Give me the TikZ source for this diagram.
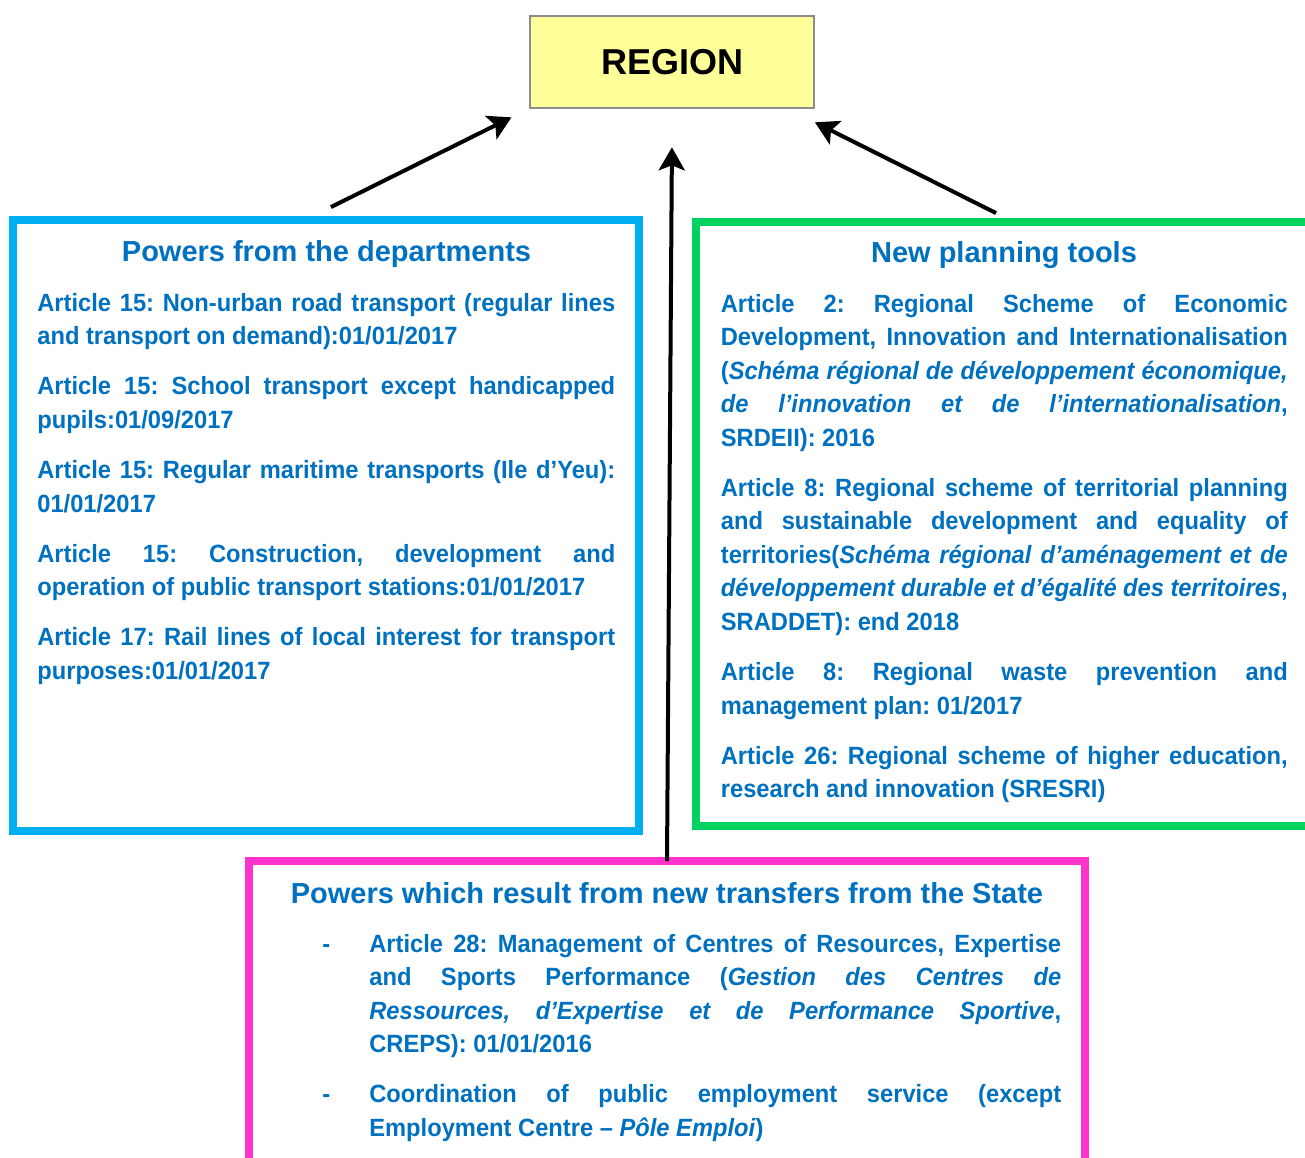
\documentclass[tikz,border=0pt]{standalone}
\usepackage{fontspec}
\setmainfont{Liberation Sans}
\newfontfamily\narrowsans[FakeStretch=0.95]{Liberation Sans}
\usetikzlibrary{arrows.meta}

\definecolor{textblue}{RGB}{0,112,192}
\definecolor{deptblue}{RGB}{0,176,240}
\definecolor{toolgreen}{RGB}{0,210,96}
\definecolor{statepink}{RGB}{255,51,204}
\definecolor{regionyellow}{RGB}{255,255,153}
\definecolor{regiongray}{RGB}{140,140,140}

\newcommand{\artsetup}{\parindent=0pt\parskip=9.5pt\frenchspacing\strut}
\newcommand{\dashitem}{\hangindent=0.94cm\hangafter=1\makebox[0.94cm][l]{-}}

\tikzset{
  powerbox/.style={shape=rectangle, draw=#1, line width=0.15cm, outer sep=0pt},
  heading/.style={anchor=base, text=textblue, font=\bfseries\fontsize{16.5pt}{20pt}\selectfont},
  article/.style={anchor=north west, inner sep=0pt, align=justify, text=textblue,
    font=\narrowsans\bfseries\fontsize{14.2pt}{19.06pt}\selectfont},
  toregion/.style={-{Stealth[length=0.46cm,width=0.52cm,inset=0.1cm]}, line width=0.08cm}
}

\begin{document}
\begin{tikzpicture}[x=0.02cm, y=-0.02cm]
	\useasboundingbox (0,0) rectangle (1305,1158);
	\clip (0,0) rectangle (1305,1158);

	\node[shape=rectangle, draw=regiongray, fill=regionyellow, line width=0.04cm, outer sep=0pt,
	      minimum width=5.67cm, minimum height=1.846cm,
	      font=\bfseries\fontsize{20.5pt}{24pt}\selectfont] (region) at (672.2, 62.2) {REGION};

	\node[powerbox=deptblue, minimum width=12.52cm, minimum height=12.22cm] (dept) at (326, 525.5) {};
	\node[powerbox=toolgreen, minimum width=12.32cm, minimum height=12.08cm] (tools) at (1004, 524) {};
	\node[powerbox=statepink, minimum width=16.72cm, minimum height=6.28cm] (state) at (667, 1018) {};

	% departments
	\node[heading] (depthead) at (326.5, 262) {Powers from the departments};
	\node[article, text width=11.56cm] (depttext) at (37, 287.5) {\artsetup
	Article 15: Non-urban road transport (regular lines\linebreak and transport on demand):01/01/2017\par
	Article 15: School transport except handicapped\linebreak pupils:01/09/2017\par
	Article 15: Regular maritime transports (Ile d’Yeu):\linebreak 01/01/2017\par
	Article 15: Construction, development and\linebreak operation of public transport stations:01/01/2017\par
	Article 17: Rail lines of local interest for transport\linebreak purposes:01/01/2017\par};

	% planning tools
	\node[heading] (toolhead) at (1004, 263) {New planning tools};
	\node[article, text width=11.34cm] (tooltext) at (720.5, 288.5) {\artsetup
	Article 2: Regional Scheme of Economic\linebreak Development, Innovation and Internationalisation\linebreak
	(\textit{Schéma régional de développement économique,\linebreak de l’innovation et de l’internationalisation},\linebreak SRDEII): 2016\par
	Article 8: Regional scheme of territorial planning\linebreak and sustainable development and equality of\linebreak
	territories(\textit{Schéma régional d’aménagement et de\linebreak développement durable et d’égalité des territoires},\linebreak SRADDET): end 2018\par
	Article 8: Regional waste prevention and\linebreak management plan: 01/2017\par
	Article 26: Regional scheme of higher education,\linebreak research and innovation (SRESRI)\par};

	% transfers from the State
	\node[heading] (statehead) at (667, 903) {Powers which result from new transfers from the State};
	\node[article, text width=14.78cm] (statetext) at (322, 928.5) {\artsetup
	\dashitem Article 28: Management of Centres of Resources, Expertise\linebreak
	and Sports Performance (\textit{Gestion des Centres de\linebreak Ressources, d’Expertise et de Performance Sportive},\linebreak CREPS): 01/01/2016\par
	\dashitem Coordination of public employment service (except\linebreak Employment Centre – \textit{Pôle Emploi})\par};

	\draw[toregion] ([shift={(5,-13)}]dept.north) -- ([shift={(-19,9)}]region.south west);
	\draw[toregion, shorten >=0.78cm] (state.north) -- (region.south);
	\draw[toregion] ([shift={(-8,-9)}]tools.north) -- ([shift={(1,14)}]region.south east);
\end{tikzpicture}
\end{document}
